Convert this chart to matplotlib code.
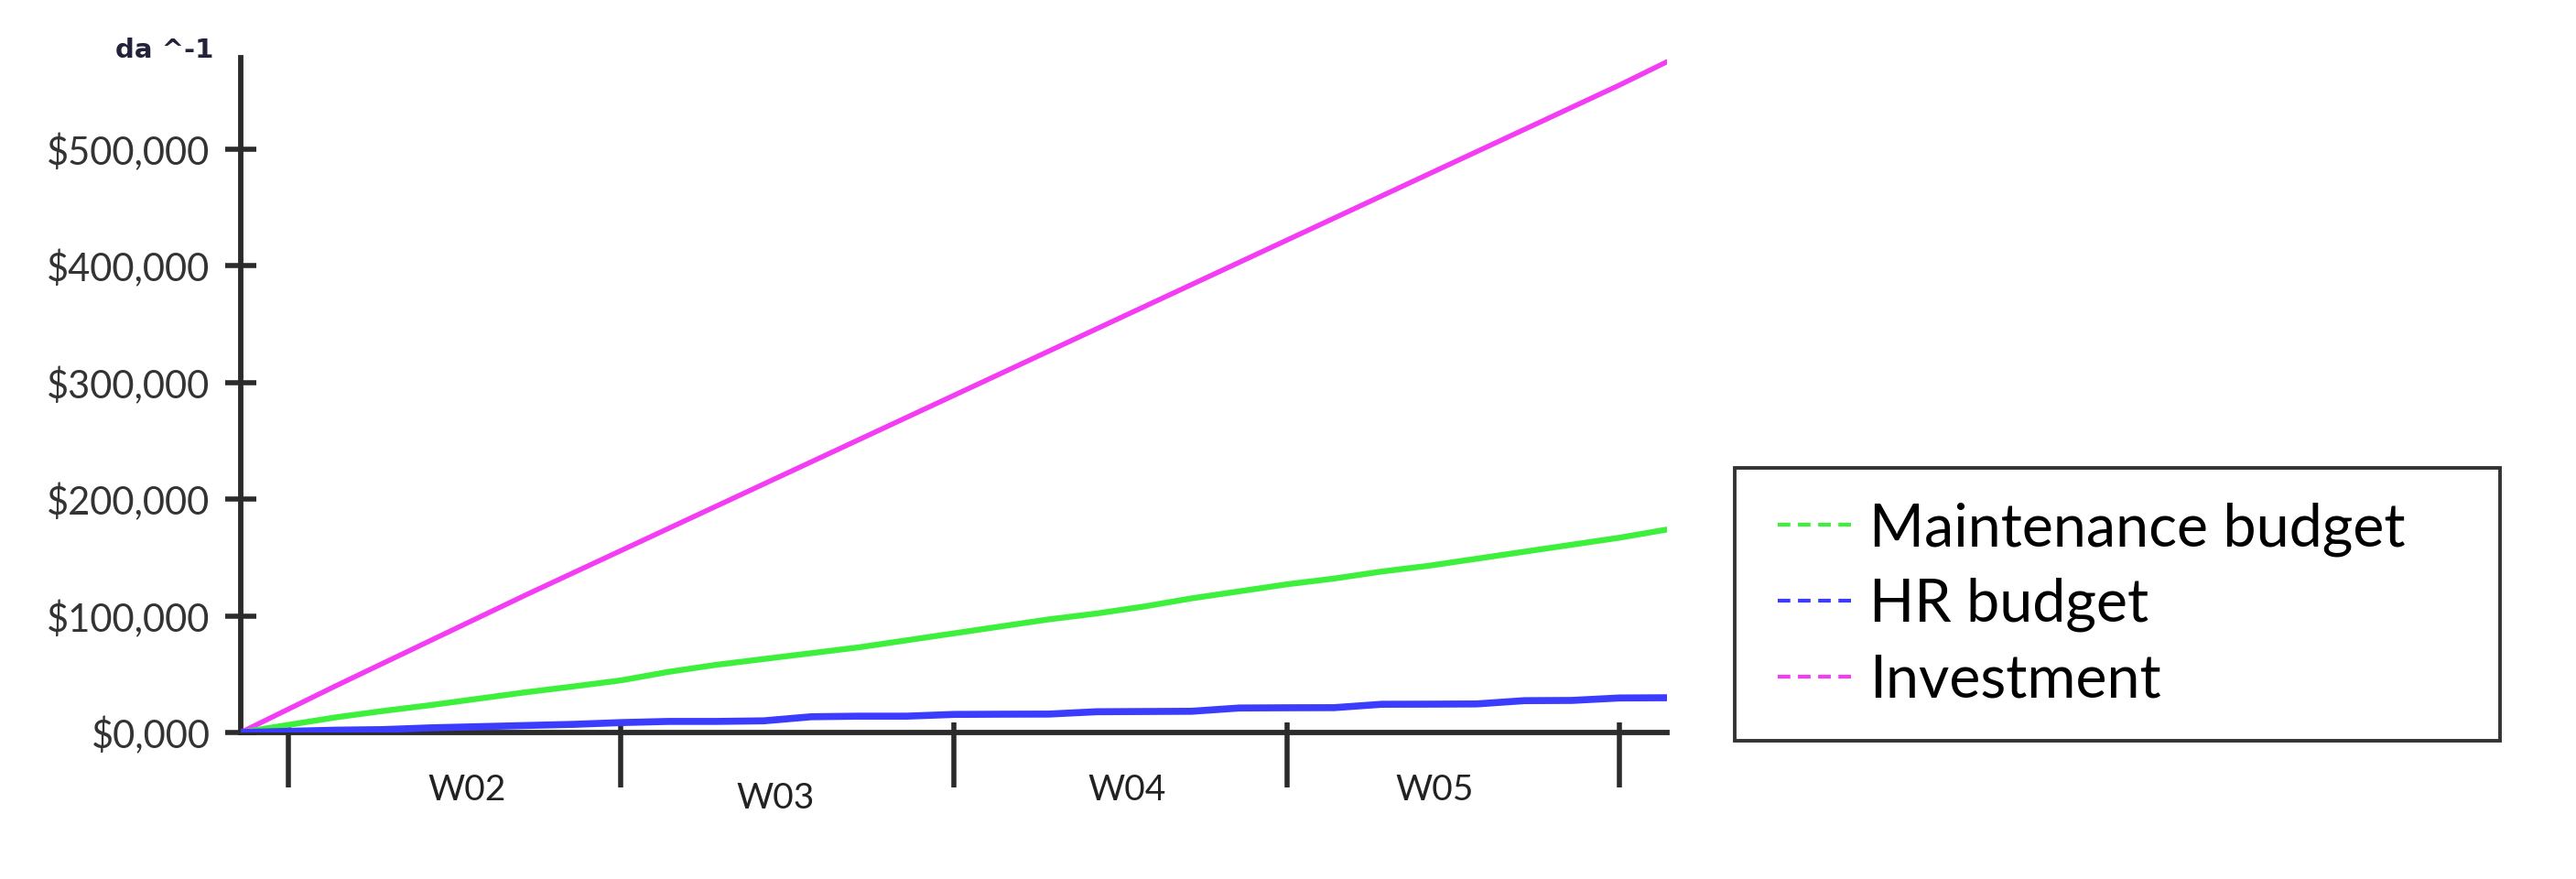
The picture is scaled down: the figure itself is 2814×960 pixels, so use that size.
import matplotlib
matplotlib.use("Agg")
import matplotlib.pyplot as plt
from matplotlib.lines import Line2D
from matplotlib.patches import Rectangle
import matplotlib.transforms as mtransforms

# ---------------- data ----------------
days = list(range(31))
investment_k = [0, 20, 40, 59.5, 79, 98.5, 118, 137, 156, 175, 194, 213, 232, 251, 270,
                289, 308, 327, 346, 365, 384, 403, 422, 441, 460, 479, 498, 517, 536, 555, 575]
maintenance_k = [0, 6.5, 13, 18.5, 23.5, 29, 34.5, 39.5, 44.7, 52, 58, 63, 68, 73, 79,
                 85, 91, 97, 102, 108, 115, 121, 127, 132, 138, 143, 149, 155, 161, 167, 174]
hr_k = [0, 1, 2, 2.5, 4, 5, 6, 7, 8.5, 9.5, 9.5, 10, 13.5, 14, 14,
        15.5, 15.7, 15.8, 17.8, 18, 18.2, 21, 21.2, 21.3, 24.2, 24.3, 24.5, 27.3, 27.5, 29.6, 29.8]

series_names = ["Maintenance budget", "HR budget", "Investment"]
week_labels = ["W02", "W03", "W04", "W05"]
week_ticks = [1, 8, 15, 22, 29]
y_ticks = [0, 100000, 200000, 300000, 400000, 500000]
y_tick_labels = ["$0,000", "$100,000", "$200,000", "$300,000", "$400,000", "$500,000"]
y_unit = "da ^-1"

# ---------------- layout / style ----------------
W, H, DPI = 2814, 960, 100
FONT = "Lato"
C_MAINT = "#3cf03c"
C_HR = "#3c3cff"
C_INV = "#f43cf4"
AX_COL = "#2b2b2b"

label_x_pos = [4.76, 11.25, 18.64, 25.11]
label_y_off = [-63, -72, -63, -63]  # pixels below axis

fig = plt.figure(figsize=(W / DPI, H / DPI), dpi=DPI)
ax = fig.add_axes([263 / W, 160 / H, 1558 / W, 737 / H])

inv = [v * 1000 for v in investment_k]
mnt = [v * 1000 for v in maintenance_k]
hr = [v * 1000 for v in hr_k]

ax.plot(days, inv, color=C_INV, lw=4.0, solid_capstyle="round", zorder=4)
ax.plot(days, mnt, color=C_MAINT, lw=4.6, solid_capstyle="round", zorder=4)
ax.plot(days, hr, color=C_HR, lw=5.5, solid_capstyle="butt", zorder=4)

ax.set_xlim(0, 30)
ax.set_ylim(0, 578500)

for s in ["top", "right"]:
    ax.spines[s].set_visible(False)
for s in ["left", "bottom"]:
    ax.spines[s].set_linewidth(4.2)
    ax.spines[s].set_color(AX_COL)

ax.set_yticks(y_ticks)
ax.set_yticklabels(y_tick_labels, fontsize=30, family=FONT, color="#333333")
ax.tick_params(axis="y", direction="inout", length=24, width=4, color=AX_COL, pad=12)

ax.set_xticks(week_ticks)
ax.set_xticklabels([])
ax.tick_params(axis="x", which="major", direction="out", length=43, width=4, color=AX_COL)
ax.xaxis.remove_overlapping_locs = False
ax.set_xticks(week_ticks, minor=True)
ax.tick_params(axis="x", which="minor", direction="in", length=8, width=4, color=AX_COL)
ax.tick_params(axis="y", which="minor", left=False)

trans = mtransforms.blended_transform_factory(ax.transData, ax.transAxes)
for lab, xp, yo in zip(week_labels, label_x_pos, label_y_off):
    ax.text(xp, yo / 737, lab, transform=trans, ha="center", va="center",
            fontsize=28, family=FONT, color="#222222")

fig.text(233 / W, 1 - 55 / H, y_unit, ha="right", va="center", fontsize=21,
         fontweight="bold", family="DejaVu Sans", color="#22223a")

# legend frame
fig.add_artist(Rectangle((1895 / W, 1 - 809 / H), (2731 - 1895) / W, (809 - 511) / H,
                         transform=fig.transFigure, fill=False, lw=2.8, edgecolor="#333333"))

handles = [Line2D([], [], color=c, lw=3, linestyle=(0, (3.3, 2.0)))
           for c in (C_MAINT, C_HR, C_INV)]
fig.legend(handles, series_names, loc="upper left", bbox_to_anchor=(1942 / W, 1 - 548 / H),
           frameon=False, prop={"family": FONT, "size": 46.5}, handlelength=1.25,
           handletextpad=0.3, labelspacing=0.36, borderpad=0, borderaxespad=0)

fig.savefig("out.png", dpi=DPI, facecolor="white")
